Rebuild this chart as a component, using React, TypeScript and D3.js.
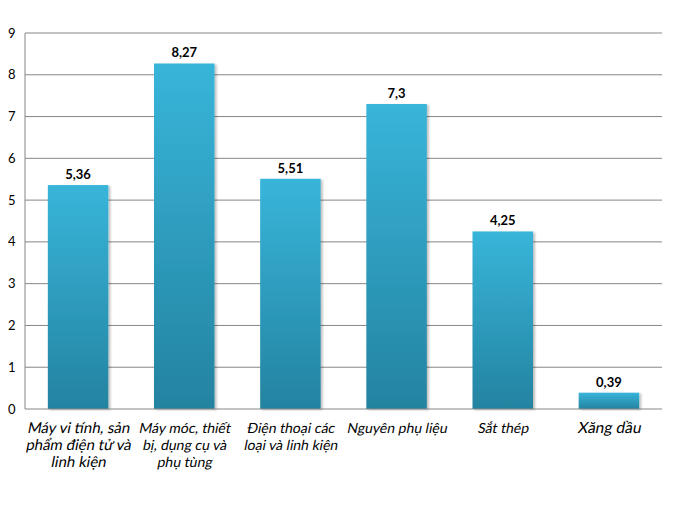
import React from "react";
import * as d3 from "d3";

const categories: string[][] = [
  ["Máy vi tính,  sản", "phẩm điện tử và", "linh kiện"],
  ["Máy móc, thiết", "bị, dụng cụ và", "phụ tùng"],
  ["Điện thoại các", "loại và linh kiện"],
  ["Nguyên phụ liệu"],
  ["Sắt thép"],
  ["Xăng dầu"],
];
const labelSizes = [15, 14, 14, 14, 14, 15.5];
const values = [5.36, 8.27, 5.51, 7.3, 4.25, 0.39];
const valueLabels = ["5,36", "8,27", "5,51", "7,3", "4,25", "0,39"];
const yTicks = [0, 1, 2, 3, 4, 5, 6, 7, 8, 9];

const W = 677;
const H = 523;
const m = { left: 25, right: 15, top: 33, bottom: 114 };

export default function App() {
  const x = d3
    .scaleBand<number>()
    .domain(d3.range(values.length))
    .range([m.left, W - m.right])
    .paddingInner(0.43)
    .paddingOuter(0.215);
  const y = d3.scaleLinear().domain([0, 9]).range([H - m.bottom, m.top]);
  const font = "Lato, 'Open Sans', sans-serif";
  return (
    <svg
      width={W}
      height={H}
      style={{ position: "absolute", left: 0, top: 0, background: "#fff" }}
    >
      <defs>
        <linearGradient id="barGrad" x1="0" y1="0" x2="0" y2="1">
          <stop offset="0%" stopColor="#38B5DA" />
          <stop offset="100%" stopColor="#2483A0" />
        </linearGradient>
        <filter id="shadow" x="-10%" y="-10%" width="130%" height="120%">
          <feDropShadow dx="2" dy="1" stdDeviation="1.2" floodColor="#000" floodOpacity="0.25" />
        </filter>
      </defs>
      {yTicks.map((t) => (
        <g key={t}>
          {t > 0 && (
            <line
              x1={m.left}
              x2={W - m.right}
              y1={y(t)}
              y2={y(t)}
              stroke="#868686"
              strokeWidth={1}
            />
          )}
          <text
            x={8}
            y={y(t)}
            dy="0.35em"
            fontFamily={font}
            fontSize={13}
            fill="#000"
          >
            {t}
          </text>
        </g>
      ))}
      <line x1={m.left} x2={m.left} y1={y(9)} y2={y(0)} stroke="#868686" />
      {values.map((v, i) => (
        <g key={i}>
          <rect
            x={x(i)}
            y={y(v)}
            width={x.bandwidth()}
            height={y(0) - y(v)}
            fill="url(#barGrad)"
            filter="url(#shadow)"
          />
          <text
            x={(x(i) as number) + x.bandwidth() / 2}
            y={y(v) - 6}
            textAnchor="middle"
            fontFamily={font}
            fontWeight="bold"
            fontSize={13}
            fill="#000"
          >
            {valueLabels[i]}
          </text>
        </g>
      ))}
      <line x1={m.left} x2={W - m.right} y1={y(0)} y2={y(0)} stroke="#868686" />
      {categories.map((lines, i) =>
        lines.map((l, j) => (
          <text
            key={`${i}-${j}`}
            transform={`translate(${(x(i) as number) + x.bandwidth() / 2},${
              y(0) + 24 + j * 17
            }) skewX(-11)`}
            textAnchor="middle"
            fontFamily={font}
            fontSize={labelSizes[i]}
            fill="#000"
          >
            {l}
          </text>
        ))
      )}
    </svg>
  );
}
